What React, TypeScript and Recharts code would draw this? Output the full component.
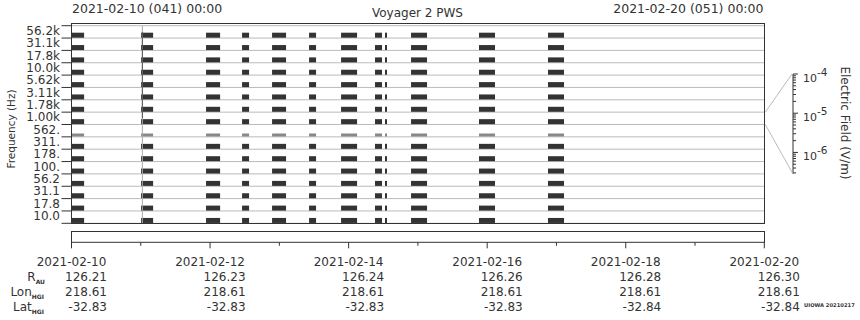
import { BarChart, Bar, XAxis, YAxis, CartesianGrid, ReferenceLine, ComposedChart } from "recharts";

const channels = ["56.2k", "31.1k", "17.8k", "10.0k", "5.62k", "3.11k", "1.78k", "1.00k", "562.", "311.", "178.", "100.", "56.2", "31.1", "17.8", "10.0"];
// relative intensity of each channel's marks (1 = saturated)
const channelLevel = [1, 1, 1, 1, 1, 1, 1, 1, 0.45, 1, 1, 1, 1, 1, 1, 1];

// data coverage, in days after 2021-02-10 00:00
const segStart = [0, 1.004, 1.942, 2.462, 2.895, 3.429, 3.891, 4.381, 4.525, 4.901, 5.882, 6.878];
const segEnd = [0.182, 1.178, 2.145, 2.563, 3.097, 3.53, 4.122, 4.482, 4.554, 5.132, 6.113, 7.109];
const spikeDay = 1.023;

const dayTicks = [0, 1, 2, 3, 4, 5, 6, 7, 8, 9, 10];
const dateLabels = ["2021-02-10", "2021-02-12", "2021-02-14", "2021-02-16", "2021-02-18", "2021-02-20"];
const rAU = ["126.21", "126.23", "126.24", "126.26", "126.28", "126.30"];
const lonHGI = ["218.61", "218.61", "218.61", "218.61", "218.61", "218.61"];
const latHGI = ["-32.83", "-32.83", "-32.83", "-32.83", "-32.84", "-32.84"];

const fieldDecades = [-4, -5, -6, -7];
const fieldMantissas = [1, 2, 3, 4, 5, 6, 7, 8, 9];

const FONT = "'DejaVu Sans', sans-serif";
const INK = "#333";
const PLOT_LEFT = 71.5;
const PLOT_RIGHT = 764.3;
const PLOT_TOP = 25.7;
const PLOT_BOTTOM = 223.3;
const ROW_H = (PLOT_BOTTOM - PLOT_TOP) / channels.length;

const rows = channels.map((label, c) => {
  const row: Record<string, any> = { label, level: channelLevel[c] };
  segStart.forEach((s, i) => {
    row["g" + i] = s - (i ? segEnd[i - 1] : 0);
    row["o" + i] = segEnd[i] - s;
  });
  return row;
});

const fieldTicks: number[] = [];
fieldDecades.forEach((d) =>
  fieldMantissas.forEach((m) => {
    const v = m * Math.pow(10, d);
    if (Math.log10(v) >= -6.55 && Math.log10(v) <= -4 + 1e-9) fieldTicks.push(v);
  })
);

const OnBar = (props: any) => {
  const { x, y, width, height, payload } = props;
  if (!width || width <= 0) return null;
  const faint = payload.level < 1;
  const h = faint ? 3 : 5;
  return <rect x={x} y={y + height - h} width={width} height={h} fill={faint ? "#888" : INK} />;
};

const ChannelTick = (props: any) => {
  const { x, y, payload, index } = props;
  return (
    <g>
      <text x={x - 11.5} y={y - 1} textAnchor="end" dominantBaseline="central" fontSize={12} fill={INK} fontFamily={FONT}>
        {payload.value}
      </text>
      <line x1={x - 10} x2={x} y1={y + ROW_H / 2} y2={y + ROW_H / 2} stroke={INK} />
      {index === 0 && <line x1={x - 10} x2={x} y1={y - ROW_H / 2} y2={y - ROW_H / 2} stroke={INK} />}
    </g>
  );
};

const Sub = ({ main, sub }: { main: string; sub: string }) => (
  <>
    {main}
    <tspan fontSize={6} fontWeight="bold" dy={3}>{sub}</tspan>
  </>
);

const EphemTick = (props: any) => {
  const { x, y, payload } = props;
  const major = payload.value % 2 === 0;
  const k = payload.value / 2;
  const t = { fontSize: 12, fill: INK, fontFamily: FONT };
  return (
    <g>
      <line x1={x} x2={x} y1={y} y2={y + (major ? 6 : 3.5)} stroke={INK} />
      {major && (
        <>
          <text x={x} y={y + 24} textAnchor="middle" {...t}>{dateLabels[k]}</text>
          <text x={x + 35.5} y={y + 39} textAnchor="end" {...t}>{rAU[k]}</text>
          <text x={x + 35.5} y={y + 54} textAnchor="end" {...t}>{lonHGI[k]}</text>
          <text x={x + 35.5} y={y + 69} textAnchor="end" {...t}>{latHGI[k]}</text>
        </>
      )}
      {payload.value === 0 && (
        <>
          <text x={x - 26.5} y={y + 39} textAnchor="end" {...t}><Sub main="R" sub="AU" /></text>
          <text x={x - 27.5} y={y + 54} textAnchor="end" {...t}><Sub main="Lon" sub="HGI" /></text>
          <text x={x - 27.5} y={y + 69} textAnchor="end" {...t}><Sub main="Lat" sub="HGI" /></text>
        </>
      )}
    </g>
  );
};

const FieldTick = (props: any) => {
  const { x, y, payload } = props;
  const lg = Math.log10(payload.value);
  const major = Math.abs(lg - Math.round(lg)) < 1e-6;
  return (
    <g>
      <line x1={x} x2={x + (major ? 5 : 3)} y1={y} y2={y} stroke={INK} />
      {major && (
        <text x={x + 10} y={y + 8} fontSize={11} fill={INK} fontFamily={FONT}>
          10<tspan fontSize={10.5} dy={-6}>{Math.round(lg)}</tspan>
        </text>
      )}
    </g>
  );
};

const abs = (top: number): React.CSSProperties => ({ position: "absolute", left: 0, top });

const stripData = dayTicks.map((d) => ({ day: d }));

export default function App() {
  const connectTop = PLOT_TOP + ROW_H * 7;
  const connectBottom = PLOT_TOP + ROW_H * 8;
  return (
    <div style={{ position: "absolute", left: 0, top: 0, width: 860, height: 320, background: "#fff", fontFamily: FONT, overflow: "hidden" }}>
      <div style={abs(0)}>
        <BarChart
          layout="vertical"
          width={860}
          height={232}
          data={rows}
          margin={{ top: PLOT_TOP, right: 860 - PLOT_RIGHT, bottom: 232 - PLOT_BOTTOM, left: 0 }}
          barCategoryGap={0}
        >
          <CartesianGrid
            vertical={false}
            stroke="#bbb"
            horizontalCoordinatesGenerator={({ offset }: any) =>
              channels.concat("").map((_, i) => offset.top + (i * offset.height) / channels.length)
            }
          />
          <XAxis type="number" domain={[0, 10]} allowDataOverflow hide />
          <YAxis
            type="category"
            dataKey="label"
            width={PLOT_LEFT}
            interval={0}
            axisLine={false}
            tickLine={false}
            tickSize={0}
            tickMargin={0}
            tick={<ChannelTick />}
          />
          <ReferenceLine x={spikeDay} stroke="#aaa" />
          <ReferenceLine segment={[{ x: spikeDay, y: channels[0] }, { x: spikeDay, y: channels[7] }]} stroke="#555" />
          {segStart.flatMap((_, i) => [
            <Bar key={"g" + i} dataKey={"g" + i} stackId="t" fill="transparent" isAnimationActive={false} />,
            <Bar key={"o" + i} dataKey={"o" + i} stackId="t" fill={INK} shape={OnBar} isAnimationActive={false} />,
          ])}
        </BarChart>
      </div>

      <div style={abs(0)}>
        <ComposedChart width={860} height={320} data={stripData} margin={{ top: 231.7, right: 860 - PLOT_RIGHT, bottom: 320 - 242.3 - 75, left: PLOT_LEFT }}>
          <XAxis
            dataKey="day"
            type="number"
            domain={[0, 10]}
            allowDataOverflow
            ticks={dayTicks}
            interval={0}
            height={75}
            tickSize={0}
            tickMargin={0}
            tickLine={false}
            axisLine={{ stroke: INK }}
            tick={<EphemTick />}
          />
          <YAxis hide domain={[0, 1]} />
        </ComposedChart>
      </div>

      <div style={abs(0)}>
        <ComposedChart width={860} height={320} data={[]} margin={{ top: 74, right: 7, bottom: 146, left: 733 }}>
          <XAxis type="number" domain={[0, 1]} hide />
          <YAxis
            orientation="right"
            type="number"
            scale="log"
            domain={[Math.pow(10, -6.55), 1e-4]}
            allowDataOverflow
            ticks={fieldTicks}
            interval={0}
            width={60}
            tickSize={0}
            tickMargin={0}
            tickLine={false}
            axisLine={{ stroke: INK }}
            tick={<FieldTick />}
          />
        </ComposedChart>
      </div>

      <div style={{ position: "absolute", left: 71, top: 23, width: PLOT_RIGHT - 71 + 1, height: 201, border: `1px solid ${INK}`, boxSizing: "border-box" }} />
      <div style={{ position: "absolute", left: 71, top: 231, width: PLOT_RIGHT - 71 + 1, height: 12, border: `1px solid ${INK}`, borderBottom: "none", boxSizing: "border-box" }} />

      <svg width={860} height={320} style={{ position: "absolute", left: 0, top: 0 }}>
        <g fontFamily={FONT} fill={INK}>
          <text x={72} y={13} fontSize={12.5}>2021-02-10 (041) 00:00</text>
          <text x={417.5} y={17} fontSize={12} textAnchor="middle">Voyager 2 PWS</text>
          <text x={763.5} y={13} fontSize={12.5} textAnchor="end">2021-02-20 (051) 00:00</text>
          <text transform="translate(11,129) rotate(-90)" fontSize={10.5} textAnchor="middle" dominantBaseline="central">Frequency (Hz)</text>
          <text transform="translate(845,123) rotate(90)" fontSize={12} textAnchor="middle" dominantBaseline="central">Electric Field (V/m)</text>
          <text x={804} y={307} fontSize={5.2} fontWeight="bold">UIOWA 20210217</text>
        </g>
        <line x1={PLOT_RIGHT + 1} y1={connectTop} x2={792} y2={74} stroke="#bbb" />
        <line x1={PLOT_RIGHT + 1} y1={connectBottom} x2={793} y2={174} stroke="#bbb" />
      </svg>
    </div>
  );
}
